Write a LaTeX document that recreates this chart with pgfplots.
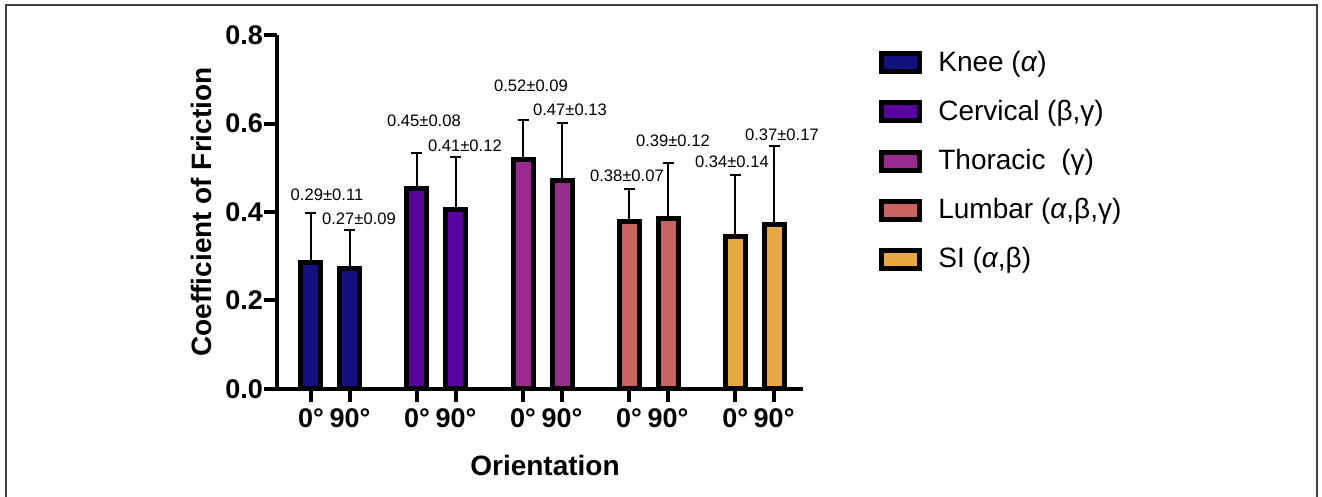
\documentclass[border=0pt]{standalone}
\usepackage{pgfplots}
\pgfplotsset{compat=1.18}
\usepackage{pgfplotstable}
\usepackage{fontspec}
\setmainfont{Liberation Sans}
\definecolor{cknee}{RGB}{19,17,128}
\definecolor{ccerv}{RGB}{90,4,160}
\definecolor{cthor}{RGB}{152,44,140}
\definecolor{clumb}{RGB}{202,100,96}
\definecolor{csi}{RGB}{232,168,66}

\pgfplotstableread{
x y e
0.87 0.285 0.113
1.87 0.272 0.088
}\knee
\pgfplotstableread{
x y e
3.59 0.452 0.081
4.59 0.405 0.120
}\cerv
\pgfplotstableread{
x y e
6.31 0.519 0.090
7.31 0.472 0.130
}\thor
\pgfplotstableread{
x y e
9.03 0.379 0.072
10.03 0.386 0.124
}\lumb
\pgfplotstableread{
x y e
11.75 0.344 0.140
12.75 0.372 0.177
}\si

\pgfplotsset{
  mybar/.style={fill=#1, draw=black, line width=2.5pt},
}

\begin{document}
\begin{tikzpicture}
\useasboundingbox (0,0) rectangle (661pt,248.5pt);
\draw[line width=1pt, black!75] (3pt,0) -- (3pt,246pt) -- (658.5pt,246pt) -- (658.5pt,0);
\begin{axis}[
  at={(138.5pt,54pt)}, anchor=south west,
  scale only axis, width=263pt, height=177pt,
  xmin=0, xmax=13.49, ymin=0, ymax=0.8,
  axis x line=bottom, axis y line=left,
  axis line style={-, line width=2pt, black},
  ybar, bar width=10pt, bar shift=0pt,
  ytick={0,0.2,0.4,0.6,0.8},
  yticklabel style={xshift=3pt, /pgf/number format/.cd, fixed, fixed zerofill, precision=1, assume math mode=true},
  xtick={0.87,1.87,3.59,4.59,6.31,7.31,9.03,10.03,11.75,12.75},
  xticklabels={0°,90°,0°,90°,0°,90°,0°,90°,0°,90°},
  tick align=outside, major tick length=6.5pt,
  tick style={line width=2pt, black},
  ticklabel style={font=\fontsize{13.5}{15}\selectfont\bfseries},
  ylabel={Coefficient of Friction},
  xlabel={Orientation},
  label style={font=\fontsize{14}{16}\selectfont\bfseries},
  ylabel style={at={(axis description cs:-0.1445,0.5)}, anchor=center},
  xlabel style={at={(axis description cs:0.5095,-0.2147)}, anchor=center},
  clip=false,
  legend style={draw=none, fill=none, at={(axis description cs:1.133,0.978)}, anchor=north west,
    font=\fontsize{14}{16}\selectfont, row sep=8.9pt, cells={anchor=west},
    /tikz/every odd column/.append style={column sep=6pt}},
  legend image code/.code={\draw[#1, line width=2.5pt] (0pt,-4.5pt) rectangle (19pt,4.5pt);},
  error bars/y dir=plus, error bars/y explicit,
  error bars/error bar style={line width=1pt, black},
  error bars/error mark options={rotate=90, line width=1pt, black, mark size=2.75pt},
]
\addplot[mybar=cknee] table[x=x, y=y, y error=e] {\knee};
\addlegendentry{Knee (\textit{α})}
\addplot[mybar=ccerv] table[x=x, y=y, y error=e] {\cerv};
\addlegendentry{Cervical (β,γ)}
\addplot[mybar=cthor] table[x=x, y=y, y error=e] {\thor};
\addlegendentry{Thoracic~ (γ)}
\addplot[mybar=clumb] table[x=x, y=y, y error=e] {\lumb};
\addlegendentry{Lumbar (\textit{α},β,γ)}
\addplot[mybar=csi] table[x=x, y=y, y error=e] {\si};
\addlegendentry{SI (\textit{α},β)}

\begin{scope}[every node/.style={font=\fontsize{8.3}{10}\selectfont, inner sep=0pt}]
\node at (axis cs:1.282,0.4386) {0.29±0.11};
\node at (axis cs:2.103,0.384) {0.27±0.09};
\node at (axis cs:3.769,0.607) {0.45±0.08};
\node at (axis cs:4.82,0.55) {0.41±0.12};
\node at (axis cs:6.513,0.686) {0.52±0.09};
\node at (axis cs:7.513,0.63) {0.47±0.13};
\node at (axis cs:8.974,0.482) {0.38±0.07};
\node at (axis cs:10.154,0.561) {0.39±0.12};
\node at (axis cs:11.667,0.514) {0.34±0.14};
\node at (axis cs:12.949,0.575) {0.37±0.17};
\end{scope}
\end{axis}
\end{tikzpicture}
\end{document}
